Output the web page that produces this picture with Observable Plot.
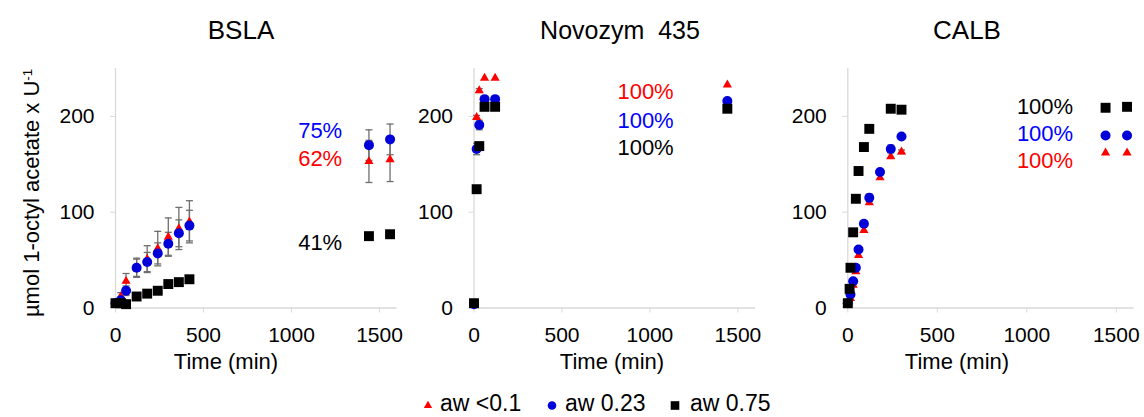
<!DOCTYPE html>
<html>
<head>
<meta charset="utf-8">
<script src="https://cdn.jsdelivr.net/npm/d3@7"></script>
<script src="https://cdn.jsdelivr.net/npm/@observablehq/plot@0.6"></script>
<style>
  body { margin: 0; background: #fff; }
  #chart { position: relative; width: 1144px; height: 417px; font-family: "Liberation Sans", Arial, sans-serif; color: #000; overflow: hidden; }
  .abs { position: absolute; white-space: pre; line-height: 1; }
  .title { font-size: 26px; transform: translate(-50%, -50%); }
  .xlab { font-size: 22px; transform: translate(-50%, -50%); }
  .ylab { font-size: 22px; transform: translate(-50%, -50%) rotate(-90deg); }
  .panel { position: absolute; top: 50px; }
  .panel svg [aria-label="x-axis tick"], .panel svg [aria-label="y-axis tick"] { stroke: #d9d9d9; }
  .panel svg .tick line { stroke: #d9d9d9; }
  .leg { position: absolute; top: 403px; font-size: 23px; transform: translateY(-50%); white-space: pre; line-height: 1; }
</style>
</head>
<body>
<div id="chart"></div>
<script>
// ---------- data ----------
const panelTitles = ["BSLA", "Novozym  435", "CALB"];
const seriesNames = ["aw <0.1", "aw 0.23", "aw 0.75"];
const xTicks = [0, 500, 1000, 1500];
const yTicks = [0, 100, 200];

// BSLA
const bslaTime = [0, 30, 60, 120, 180, 240, 300, 360, 420, 1440, 1560];
const bslaAw01 = [5, 12, 28, 42, 51, 62, 74, 83, 90, 153, 155];
const bslaAw01Err = [1, 4, 8, 10, 14, 18, 20, 22, 22, 22, 23];
const bslaAw023 = [5, 8, 18, 42, 48, 57, 67, 78, 86, 170, 176];
const bslaAw023Err = [1, 3, 5, 9, 10, 11, 12, 14, 16, 16, 16];
const bslaAw075 = [5, 5, 4, 12, 15, 18, 25, 27, 30, 75, 77];
const bslaAw075Err = [0, 0, 0, 0, 0, 0, 0, 0, 0, 0, 0];
const bslaPct = ["62%", "75%", "41%"];
const bslaPctY = [156, 185, 68];

// Novozym 435
const novoTime = [0, 15, 30, 60, 120, 1440];
const novoAw01 = [4, 199, 227, 240, 240, 233];
const novoAw01Err = [0, 2, 2, 0, 0, 0];
const novoAw023 = [4, 166, 191, 218, 218, 216];
const novoAw023Err = [0, 6, 5, 0, 0, 0];
const novoAw075 = [5, 124, 169, 210, 210, 208];
const novoAw075Err = [0, 3, 3, 0, 0, 0];
const novoPct = ["100%", "100%", "100%"];
const novoPctY = [225, 195, 167];

// CALB
const calbTime = [0, 15, 30, 45, 60, 90, 120, 180, 240, 300, 1440, 1560];
const calbAw01 = [4, 10, 24, 38, 55, 81, 110, 136, 158, 163, 162, 162];
const calbAw01Err = [0, 0, 0, 0, 0, 0, 0, 0, 0, 2, 0, 0];
const calbAw023 = [5, 14, 28, 42, 61, 88, 115, 142, 166, 179, 180, 180];
const calbAw023Err = [0, 0, 0, 0, 0, 0, 4, 0, 4, 0, 0, 0];
const calbTime075 = [0, 10, 15, 30, 45, 60, 90, 120, 240, 300, 1440, 1560];
const calbAw075 = [5, 20, 42, 79, 114, 143, 168, 187, 208, 207, 209, 210];
const calbAw075Err = [0, 0, 0, 0, 0, 0, 0, 3, 0, 0, 0, 0];
const calbPct = ["100%", "100%", "100%"];
const calbPctY = [154, 182, 210];

// ---------- styling ----------
const colors = ["#ff0000", "#0000d8", "#000000"];
const textColors = ["#ff0000", "#0000ff", "#000000"];
const symbols = ["triangle", "circle", "square"];
const radii = [3.4, 5, 5.6];
const axisColor = "#d9d9d9";
const errColor = "#6f6f6f";
const font = "Liberation Sans, Arial, sans-serif";

const cap = { draw(ctx) { ctx.moveTo(-3.5, 0); ctx.lineTo(3.5, 0); } };

const rows = (t, v, e) => t.map((x, i) => ({ t: x, v: v[i], e: e[i] }));

const panels = [
  { series: [rows(bslaTime, bslaAw01, bslaAw01Err), rows(bslaTime, bslaAw023, bslaAw023Err), rows(bslaTime, bslaAw075, bslaAw075Err)],
    pct: bslaPct, pctY: bslaPctY, pctX: 1288,
    left: 40, width: 360, ml: 75, mr: 3.4 },
  { series: [rows(novoTime, novoAw01, novoAw01Err), rows(novoTime, novoAw023, novoAw023Err), rows(novoTime, novoAw075, novoAw075Err)],
    pct: novoPct, pctY: novoPctY, pctX: 1135,
    left: 400, width: 370, ml: 73.5, mr: 15 },
  { series: [rows(calbTime, calbAw01, calbAw01Err), rows(calbTime, calbAw023, calbAw023Err), rows(calbTime075, calbAw075, calbAw075Err)],
    pct: calbPct, pctY: calbPctY, pctX: 1259,
    left: 770, width: 374, ml: 77.3, mr: 10.3 }
];

const chart = document.getElementById("chart");

const titleX = [241, 620, 967];
const xlabX = [226, 612, 957];

panels.forEach((p, pi) => {
  const marks = [
    Plot.ruleY([0], { stroke: axisColor, strokeWidth: 1.3 }),
    Plot.ruleX([0], { stroke: axisColor, strokeWidth: 1.3 })
  ];
  // error bars (behind markers)
  p.series.forEach((s) => {
    const withErr = s.filter(d => d.e > 0);
    marks.push(Plot.ruleX(withErr, { x: "t", y1: d => d.v - d.e, y2: d => d.v + d.e, stroke: errColor, strokeWidth: 1.3 }));
    marks.push(Plot.dot(withErr, { x: "t", y: d => d.v + d.e, symbol: cap, r: 3, fill: "none", stroke: errColor, strokeWidth: 1.3 }));
    marks.push(Plot.dot(withErr, { x: "t", y: d => d.v - d.e, symbol: cap, r: 3, fill: "none", stroke: errColor, strokeWidth: 1.3 }));
  });
  // markers: red, blue, black
  p.series.forEach((s, si) => {
    marks.push(Plot.dot(s, { x: "t", y: "v", symbol: symbols[si], r: radii[si], fill: colors[si], stroke: "none" }));
  });
  // percentage labels (series order: aw<0.1, aw 0.23, aw 0.75)
  const lab = p.pct.map((txt, i) => ({ txt, y: p.pctY[i], c: textColors[i] }));
  marks.push(Plot.text(lab, { x: () => p.pctX, y: "y", text: "txt", fill: "c", textAnchor: "end", fontSize: 22 }));

  const svg = Plot.plot({
    width: p.width,
    height: 300,
    marginLeft: p.ml,
    marginRight: p.mr,
    marginTop: 18,
    marginBottom: 42.5,
    style: { fontSize: "21px", fontFamily: font, color: "#000", background: "transparent", overflow: "visible" },
    x: { domain: [0, 1600], ticks: xTicks, tickFormat: d => String(d), tickSize: 5, tickPadding: 14, label: null },
    y: { domain: [0, 250], ticks: yTicks, tickFormat: d => String(d), tickSize: 5, tickPadding: 16, label: null },
    marks
  });
  const wrap = document.createElement("div");
  wrap.className = "panel";
  wrap.style.left = p.left + "px";
  wrap.appendChild(svg);
  chart.appendChild(wrap);

  const t = document.createElement("div");
  t.className = "abs title";
  if (pi === 1) t.style.fontSize = "25px";
  t.style.left = titleX[pi] + "px";
  t.style.top = "30px";
  t.textContent = panelTitles[pi];
  chart.appendChild(t);

  const xl = document.createElement("div");
  xl.className = "abs xlab";
  xl.style.left = xlabX[pi] + "px";
  xl.style.top = "362px";
  xl.textContent = "Time (min)";
  chart.appendChild(xl);
});

// y-axis label
const yl = document.createElement("div");
yl.className = "abs ylab";
yl.style.left = "32px";
yl.style.top = "193px";
yl.innerHTML = "µmol 1-octyl acetate x U<sup style=\"font-size:0.6em;vertical-align:0.6em\">-1</sup>";
chart.appendChild(yl);

// legend
const legMarker = [
  '<svg width="12" height="12" viewBox="-6 -6 12 12"><path d="' + d3.symbol(d3.symbolTriangle, 30)() + '" fill="' + colors[0] + '"/></svg>',
  '<svg width="12" height="12" viewBox="-6 -6 12 12"><circle r="4.3" fill="' + colors[1] + '"/></svg>',
  '<svg width="12" height="12" viewBox="-6 -6 12 12"><rect x="-4.3" y="-4.3" width="8.6" height="8.6" fill="' + colors[2] + '"/></svg>'
];
const legMarkerX = [422, 546, 669];
const legTextX = [440, 565, 690];
seriesNames.forEach((n, i) => {
  const m = document.createElement("div");
  m.className = "leg";
  m.style.left = legMarkerX[i] + "px";
  m.style.top = "404px";
  m.innerHTML = legMarker[i];
  chart.appendChild(m);
  const s = document.createElement("div");
  s.className = "leg";
  s.style.left = legTextX[i] + "px";
  s.textContent = n;
  chart.appendChild(s);
});
</script>
</body>
</html>
